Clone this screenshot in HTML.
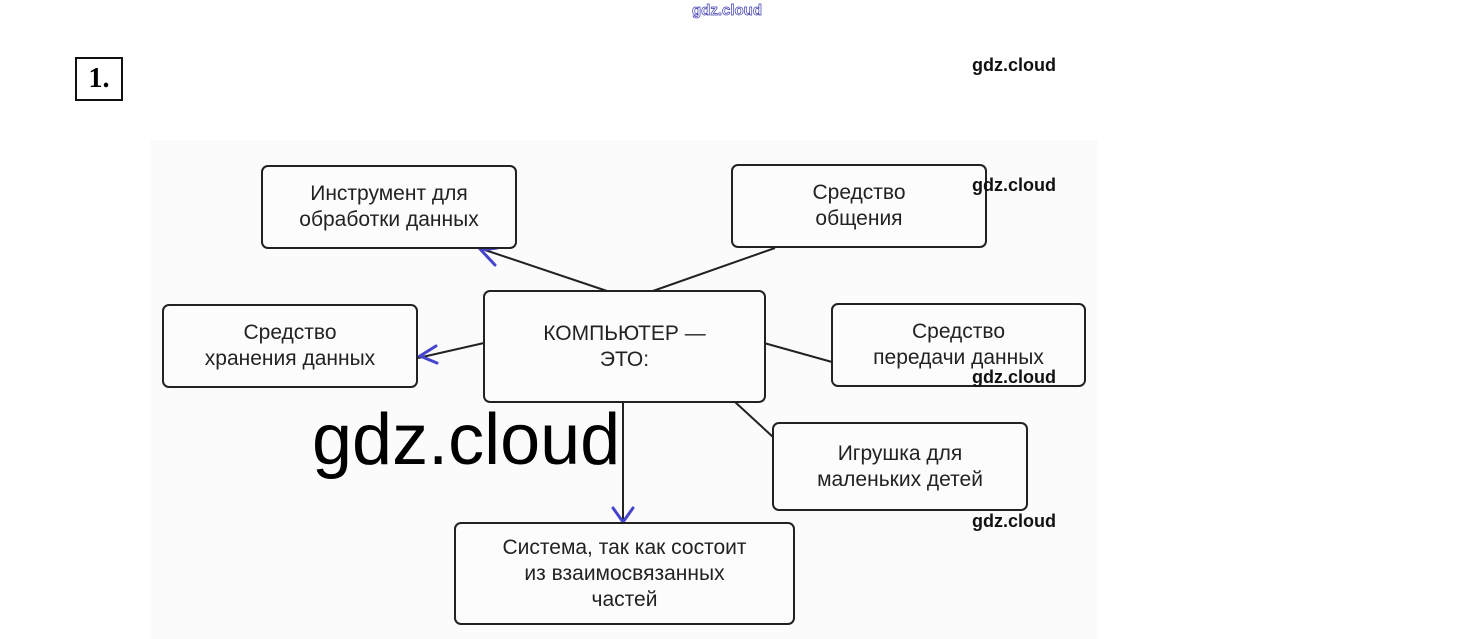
<!DOCTYPE html>
<html><head><meta charset="utf-8"><style>
body{margin:0;width:1460px;height:639px;background:#fff;position:relative;overflow:hidden;font-family:"Liberation Sans","DejaVu Sans",sans-serif}
.scan{position:absolute;left:150px;top:140px;width:948px;height:499px;background:#fbfbfb}
.box{position:absolute;border:2px solid #222;border-radius:7px;background:#fcfcfc;display:flex;align-items:center;justify-content:center;text-align:center;font-size:21px;line-height:26px;color:#222;box-sizing:border-box}
.wm{position:absolute;font-weight:bold;font-size:18px;color:#111;font-family:"Liberation Sans",sans-serif}
</style></head><body>
<div style="position:absolute;left:692px;top:2px;font-size:15px;color:#fff;-webkit-text-stroke:0.7px #3a3ab0;font-weight:bold">gdz.cloud</div>
<div style="position:absolute;left:75px;top:57px;width:44px;height:40px;border:2px solid #111;font:bold 28px 'Liberation Serif',serif;display:flex;align-items:center;justify-content:center">1.</div>
<div class="scan"></div>
<svg style="position:absolute;left:0;top:0" width="1460" height="639">
<g stroke="#222" stroke-width="2" fill="none">
<line x1="610" y1="292" x2="482" y2="249"/>
<line x1="650" y1="292" x2="775" y2="248"/>
<line x1="484" y1="343" x2="418" y2="358"/>
<line x1="764" y1="343" x2="832" y2="362"/>
<line x1="735" y1="402" x2="773" y2="437"/>
<line x1="623" y1="402" x2="623" y2="522"/>
</g>
<g stroke="#4444cc" stroke-width="3" fill="none" stroke-linecap="round">
<path d="M495 265 L481 250 L497 248"/>
<path d="M436 346 L420 356 L437 363"/>
<path d="M613 508 L623 522 L633 508"/>
</g>
</svg>
<div class="box" style="left:261px;top:165px;width:256px;height:84px">Инструмент для<br>обработки данных</div>
<div class="box" style="left:731px;top:164px;width:256px;height:84px">Средство<br>общения</div>
<div class="box" style="left:162px;top:304px;width:256px;height:84px">Средство<br>хранения данных</div>
<div class="box" style="left:483px;top:290px;width:283px;height:113px">КОМПЬЮТЕР —<br>ЭТО:</div>
<div class="box" style="left:831px;top:303px;width:255px;height:84px">Средство<br>передачи данных</div>
<div class="box" style="left:772px;top:422px;width:256px;height:89px">Игрушка для<br>маленьких детей</div>
<div class="box" style="left:454px;top:522px;width:341px;height:103px">Система, так как состоит<br>из взаимосвязанных<br>частей</div>
<div class="wm" style="left:972px;top:55px">gdz.cloud</div>
<div class="wm" style="left:972px;top:175px">gdz.cloud</div>
<div class="wm" style="left:972px;top:367px">gdz.cloud</div>
<div class="wm" style="left:972px;top:511px">gdz.cloud</div>
<div style="position:absolute;left:312px;top:398px;font-size:72px;color:#000;line-height:84px">gdz.cloud</div>
</body></html>
